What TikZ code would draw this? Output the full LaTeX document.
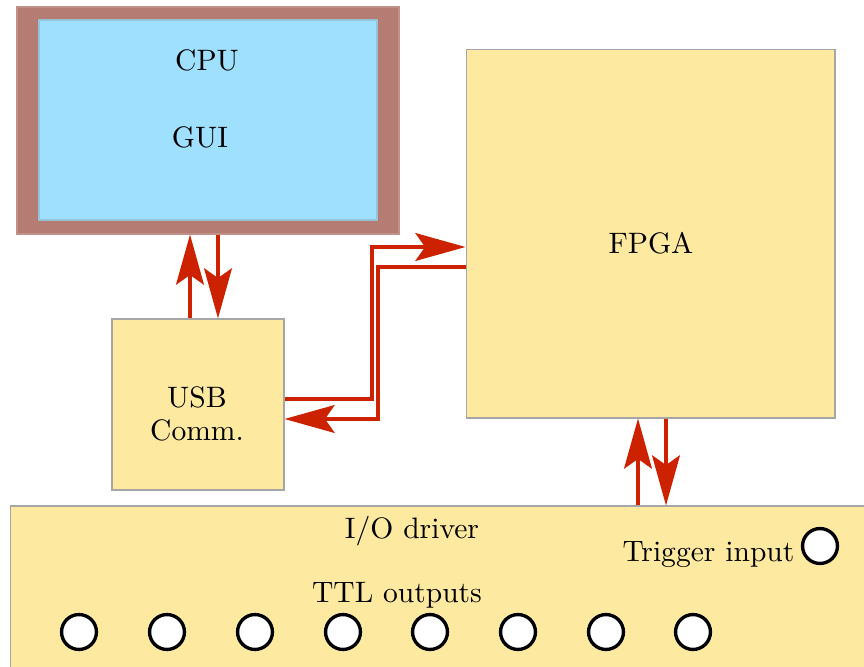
\documentclass[tikz,border=0pt]{standalone}
\usepackage{xcolor}
\usepackage{tikz}
\usetikzlibrary{arrows.meta, positioning}

\definecolor{boxyellow}{RGB}{253,233,160}
\definecolor{boxblue}{RGB}{160,224,255}
\definecolor{framebrown}{RGB}{181,124,116}
\definecolor{linkred}{RGB}{204,34,0}

\tikzset{
  block/.style={draw=gray!70, fill=boxyellow, line width=0.4pt, inner sep=0pt},
  link/.style={draw=linkred, line width=1.1pt,
    -{Stealth[length=18pt, width=10pt, inset=3.5pt]}},
  pin/.style={circle, draw=black, fill=white, line width=1.2pt,
    minimum size=0.44cm, inner sep=0pt}
}

\begin{document}
\begin{tikzpicture}[x=0.0126cm, y=-0.0126cm, font=\fontsize{10.6}{13}\selectfont]
  \clip (0,0) rectangle (864,667);
  % boxes
  \node[fill=framebrown, draw=framebrown!85, minimum width=4.813cm, minimum height=2.860cm] (cpuframe) at (208,120.5) {};
  \node[fill=boxblue, draw=boxblue!70!gray, minimum width=4.259cm, minimum height=2.52cm] (cpu) at (208,120) {};
  \node (cpulabel) at (207,60) {CPU};
  \node (guilabel) at (200,137) {GUI};
  \node[block, minimum width=2.167cm, minimum height=2.155cm] (usb) at (198,404.5) {};
  \node[align=center] (usblabel) at (197,414) {USB\\[-1pt]Comm.};
  \node[block, minimum width=4.649cm, minimum height=4.649cm] (fpga) at (650.5,233.5) {};
  \node (fpgalabel) at (651,243) {FPGA};
  \node[block, minimum width=10.962cm, minimum height=2.192cm] (io) at (445,593) {};
  \node (iolabel) at (412,531) {I/O driver};
  \node (ttllabel) at (397,595) {TTL outputs};
  % pins
  \node[pin] (trig) at (820,546) {};
  \node[left=-1.2pt of trig, yshift=-3pt] (triglabel) {Trigger input};
  \foreach \i/\x in {1/79,2/167,3/255,4/343,5/430,6/518,7/606,8/693}
    \node[pin] (ttl\i) at (\x,632) {};
  % links
  \draw[link] (usb.north -| 190,0) -- (cpuframe.south -| 190,0);
  \draw[link] (cpuframe.south -| 218,0) -- (usb.north -| 218,0);
  \draw[link] (usb.east |- 0,399) -| (372,247) -- (fpga.west |- 0,247);
  \draw[link] (fpga.west |- 0,267) -| (378,419) -- (usb.east |- 0,419);
  \draw[link] (io.north -| 638,0) -- (fpga.south -| 638,0);
  \draw[link] (fpga.south -| 666,0) -- (io.north -| 666,0);
\end{tikzpicture}
\end{document}
